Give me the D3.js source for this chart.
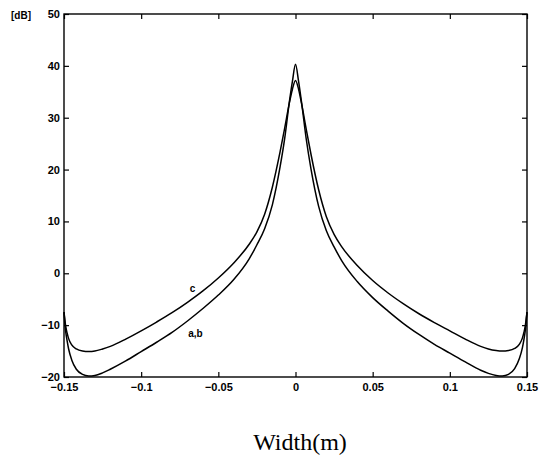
<!DOCTYPE html>
<html>
<head>
<meta charset="utf-8">
<script src="https://cdn.jsdelivr.net/npm/d3@7"></script>
<style>
  body { margin: 0; background: #fff; }
  svg { display: block; }
  .tick text { font-family: "Liberation Sans", Arial, sans-serif; font-weight: bold; font-size: 11px; fill: #000; }
</style>
</head>
<body>
<div id="chart"></div>
<script>
// x positions (m)
const widthX = [-0.15, -0.1495, -0.149, -0.148, -0.147, -0.145, -0.142, -0.138, -0.134, -0.13, -0.125, -0.12, -0.11, -0.1,
  -0.09, -0.08, -0.07, -0.06, -0.05, -0.04, -0.03, -0.025, -0.02, -0.015, -0.01, -0.007, -0.004, -0.002, 0,
  0.002, 0.004, 0.007, 0.01, 0.015, 0.02, 0.025, 0.03, 0.04, 0.05, 0.06, 0.07, 0.08, 0.09,
  0.1, 0.11, 0.12, 0.125, 0.13, 0.134, 0.138, 0.142, 0.145, 0.147, 0.148, 0.149, 0.1495, 0.15];

// curve a,b (dB)
const curveAB = [-7.5, -9.5, -11, -13, -14.6, -16.7, -18.5, -19.5, -19.8, -19.7, -19.2, -18.5, -16.9, -15.1,
  -13.3, -11.4, -9.2, -6.8, -4.2, -1.2, 2.8, 5.5, 8.6, 13.2, 20.5, 26, 33, 37, 40.3,
  37, 32.8, 25.8, 20.2, 12.9, 8.2, 5.1, 2.4, -1.6, -4.7, -7.3, -9.7, -11.8, -13.7,
  -15.4, -17.1, -18.7, -19.3, -19.7, -19.8, -19.5, -18.4, -16.5, -14.4, -12.8, -10.8, -9.3, -7.5];

// curve c (dB)
const curveC = [-7.5, -8.8, -10, -11.5, -12.6, -13.8, -14.6, -15, -15.1, -15, -14.6, -14.1, -12.7, -11.1,
  -9.4, -7.6, -5.6, -3.4, -0.9, 2, 5.6, 8, 11.4, 16.6, 23.4, 28, 32.8, 35.5, 37.2,
  35.5, 32.6, 27.7, 23, 16.1, 10.9, 7.5, 5.1, 1.5, -1.4, -3.8, -5.9, -7.8, -9.5,
  -11.1, -12.7, -14.1, -14.6, -14.9, -15, -14.9, -14.5, -13.7, -12.5, -11.4, -9.9, -8.7, -7.5];

const xTicks = [-0.15, -0.1, -0.05, 0, 0.05, 0.1, 0.15];
const xTickLabels = ["\u22120.15", "\u22120.1", "\u22120.05", "0", "0.05", "0.1", "0.15"];
const yTicks = [-20, -10, 0, 10, 20, 30, 40, 50];
const yTickLabels = ["\u221220", "\u221210", "0", "10", "20", "30", "40", "50"];

// dimensions
const W = 539, H = 455;
const margin = { top: 14, right: 12, bottom: 78, left: 64 },
      width = W - margin.left - margin.right,
      height = H - margin.top - margin.bottom;

const svg = d3.select("#chart").append("svg")
    .attr("width", W)
    .attr("height", H);

svg.append("rect").attr("width", W).attr("height", H).attr("fill", "#fff");

const g = svg.append("g")
    .attr("transform", `translate(${margin.left},${margin.top})`);

const x = d3.scaleLinear().domain([-0.15, 0.15]).range([0, width]);
const y = d3.scaleLinear().domain([-20, 50]).range([height, 0]);

// axes, ticks point inward
g.append("g")
    .attr("transform", `translate(0,${height})`)
    .call(d3.axisBottom(x).tickValues(xTicks)
        .tickFormat((d, i) => xTickLabels[i])
        .tickSizeInner(-5).tickSizeOuter(0).tickPadding(6))
    .call(a => a.select(".domain").remove());

g.append("g")
    .call(d3.axisTop(x).tickValues(xTicks).tickFormat("")
        .tickSizeInner(-5).tickSizeOuter(0))
    .call(a => a.select(".domain").remove());

g.append("g")
    .call(d3.axisLeft(y).tickValues(yTicks)
        .tickFormat((d, i) => yTickLabels[i])
        .tickSizeInner(-5).tickSizeOuter(0).tickPadding(4))
    .call(a => a.select(".domain").remove());

g.append("g")
    .attr("transform", `translate(${width},0)`)
    .call(d3.axisRight(y).tickValues(yTicks).tickFormat("")
        .tickSizeInner(-5).tickSizeOuter(0))
    .call(a => a.select(".domain").remove());

g.selectAll(".tick line").attr("stroke", "#000").attr("stroke-width", 1.2);

// frame
g.append("rect")
    .attr("width", width).attr("height", height)
    .attr("fill", "none").attr("stroke", "#000").attr("stroke-width", 1.4);

// curves
const line = d3.line()
    .x(d => x(d[0]))
    .y(d => y(d[1]))
    .curve(d3.curveMonotoneX);

[curveAB, curveC].forEach(series => {
  g.append("path")
      .datum(widthX.map((v, i) => [v, series[i]]))
      .attr("d", line)
      .attr("fill", "none")
      .attr("stroke", "#000")
      .attr("stroke-width", 1.5);
});

// curve labels
const lblFont = '"Liberation Sans", Arial, sans-serif';
g.append("text").attr("x", x(-0.0685)).attr("y", y(-3.6))
    .attr("font-family", lblFont).attr("font-weight", "bold").attr("font-size", 10)
    .text("c");
g.append("text").attr("x", x(-0.0695)).attr("y", y(-12.3))
    .attr("font-family", lblFont).attr("font-weight", "bold").attr("font-size", 10)
    .text("a,b");

// unit label
svg.append("text").attr("x", 11).attr("y", 19)
    .attr("font-family", lblFont).attr("font-weight", "bold").attr("font-size", 10)
    .text("[dB]");

// x axis title
svg.append("text")
    .attr("x", 300).attr("y", 450)
    .attr("text-anchor", "middle")
    .attr("font-family", '"Liberation Serif", "Times New Roman", serif')
    .attr("font-size", 24)
    .text("Width(m)");
</script>
</body>
</html>
